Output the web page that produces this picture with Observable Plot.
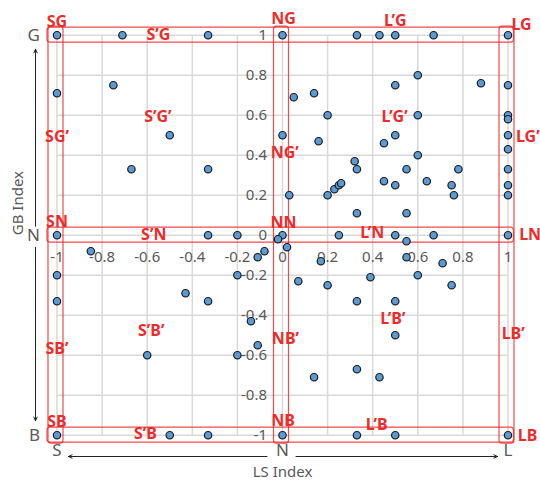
<!DOCTYPE html>
<html><head><meta charset="utf-8">
<script src="https://cdn.jsdelivr.net/npm/d3@7"></script>
<script src="https://cdn.jsdelivr.net/npm/@observablehq/plot@0.6"></script>
<style>body{margin:0;background:#fff}</style>
</head><body><div id="chart"></div>
<script>
// LS index (x) and GB index (y) of each observation
const lsValues = [
  -1, -0.71, -0.33, 0, 0.33, 0.43, 0.5, 0.67, 1,
  -1, -0.75, -0.5, -0.67, -0.33,
  0.05, 0.14, 0.2, 0, 0.16, 0.03, 0.2, 0.23, 0.25, 0.26, 0.32, 0.33, 0.33, 0.55,
  0.5, 0.6, 0.88, 0.6, 0.5, 0.45, 0.6, 0.55, 0.78, 0.45, 0.5, 0.64, 0.75, 0.76,
  1, 1, 1, 1, 1, 1, 1, 1,
  -1, -0.33, -0.2, 0, 0.25, 0.5, 0.67, 1,
  -0.02, 0.02, 0.55,
  -0.85, -1, -1, -0.43, -0.6, -0.33, -0.2, -0.14, -0.11, -0.2, -0.11, -0.08,
  0.07, 0.17, 0.2, 0.14, 0.55, 0.71, 0.39, 0.6, 0.75, 0.33, 0.5, 0.5, 0.33, 0.43,
  -1, -0.5, -0.33, 0, 0.33, 0.5, 1
];
const gbValues = [
  1, 1, 1, 1, 1, 1, 1, 1, 1,
  0.71, 0.75, 0.5, 0.33, 0.33,
  0.69, 0.71, 0.6, 0.5, 0.47, 0.2, 0.2, 0.23, 0.25, 0.26, 0.37, 0.33, 0.11, 0.11,
  0.75, 0.8, 0.76, 0.6, 0.5, 0.46, 0.4, 0.33, 0.33, 0.27, 0.25, 0.27, 0.25, 0.2,
  0.75, 0.6, 0.58, 0.5, 0.43, 0.33, 0.25, 0.2,
  0, 0, 0, 0, 0, 0, 0, 0,
  -0.02, -0.06, -0.03,
  -0.08, -0.2, -0.33, -0.29, -0.6, -0.33, -0.2, -0.43, -0.55, -0.6, -0.11, -0.08,
  -0.23, -0.13, -0.25, -0.71, -0.11, -0.14, -0.21, -0.2, -0.25, -0.33, -0.33, -0.5, -0.67, -0.71,
  -1, -1, -1, -1, -1, -1, -1
];

const xTicks = [-1, -0.8, -0.6, -0.4, -0.2, 0, 0.2, 0.4, 0.6, 0.8, 1];
const yTicks = [-1, -0.8, -0.6, -0.4, -0.2, 0, 0.2, 0.4, 0.6, 0.8, 1];
const xTickLabels = ["-1", "-0.8", "-0.6", "-0.4", "-0.2", "0", "0.2", "0.4", "0.6", "0.8", "1"];
const yTickLabels = ["-1", "-0.8", "-0.6", "-0.4", "-0.2", "0", "0.2", "0.4", "0.6", "0.8", "1"];

const lsPoles = [-1, 0, 1];
const lsPoleNames = ["S", "N", "L"];
const gbPoles = [-1, 0, 1];
const gbPoleNames = ["B", "N", "G"];
const xTitle = "LS Index";
const yTitle = "GB Index";

// highlighted bands (rows at GB poles, columns at LS poles)
const bandRows = [1, 0, -1];
const bandCols = [-1, 0, 1];

// zone labels and their anchor positions (in index units)
const zoneNames = ["SG", "S’G", "NG", "L’G", "LG",
                   "SG’", "S’G’", "NG’", "L’G’", "LG’",
                   "SN", "S’N", "NN", "L’N", "LN",
                   "SB’", "S’B’", "NB’", "L’B’", "LB’",
                   "SB", "S’B", "NB", "L’B", "LB"];
const zoneX = [-1.0, -0.55, 0.005, 0.5, 1.06,
               -1.0, -0.553, 0.01, 0.497, 1.088,
               -1.0, -0.571, 0.005, 0.398, 1.098,
               -1.0, -0.582, 0.013, 0.489, 1.023,
               -1.0, -0.608, 0.003, 0.418, 1.087];
const zoneY = [1.067, 1.0, 1.082, 1.07, 1.052,
               0.49, 0.591, 0.4135, 0.594, 0.492,
               0.069, 0.0035, 0.0635, 0.0135, 0.0,
               -0.568, -0.4765, -0.52, -0.42, -0.493,
               -0.9325, -0.993, -0.9305, -0.9505, -1.0015];

const points = lsValues.map((x, i) => ({x, y: gbValues[i]}));
const zones = zoneNames.map((t, i) => ({t, x: zoneX[i], y: zoneY[i]}));
const xTickData = xTicks.map((v, i) => ({v, t: xTickLabels[i]}));
const yTickData = yTicks.map((v, i) => ({v, t: yTickLabels[i]}));

const gray = "#595959";
const red = "#ee2b2b";

const chart = Plot.plot({
  width: 540,
  height: 485,
  marginLeft: 56.5,
  marginRight: 32.5,
  marginTop: 34.7,
  marginBottom: 50.3,
  x: {domain: [-1, 1], axis: null},
  y: {domain: [-1, 1], axis: null},
  style: {fontFamily: "'Noto Sans', sans-serif", background: "#fff", overflow: "visible"},
  marks: [
    Plot.ruleX(xTicks, {x: d => d, stroke: "#d9d9d9", strokeWidth: 1.5}),
    Plot.ruleY(yTicks, {y: d => d, stroke: "#d9d9d9", strokeWidth: 1.5}),
    // row bands
    Plot.rect(bandRows, {x1: -1, x2: 1, y1: d => d, y2: d => d,
      insetLeft: -9.5, insetRight: -6, insetTop: -7.5, insetBottom: -7.5,
      rx: 3, fill: "none", stroke: red, strokeWidth: 1.2, strokeOpacity: 0.85}),
    // column bands
    Plot.rect(bandCols, {x1: d => d, x2: d => d, y1: -1, y2: 1,
      insetLeft: -8.5, insetRight: -6.5, insetTop: -8.5, insetBottom: -8.5,
      rx: 3, fill: "none", stroke: red, strokeWidth: 1.2, strokeOpacity: 0.85}),
    // tick labels at the crossing axes
    Plot.text(yTickData, {x: 0, y: "v", text: "t", dx: -15.5, textAnchor: "end", fill: gray, fontSize: 15}),
    Plot.text(xTickData, {x: "v", y: 0, text: "t", dy: 21.5, fill: gray, fontSize: 15}),
    // pole labels
    Plot.text(gbPoles, {y: d => d, text: (d, i) => gbPoleNames[i], frameAnchor: "left", dx: -17, textAnchor: "end", fill: gray, fontSize: 17}),
    Plot.text(lsPoles, {x: d => d, text: (d, i) => lsPoleNames[i], frameAnchor: "bottom", dy: 20.5, fill: gray, fontSize: 17}),
    // axis titles
    Plot.text([yTitle], {text: d => d, frameAnchor: "left", dx: -38.5, rotate: -90, fill: gray, fontSize: 15}),
    Plot.text([xTitle], {text: d => d, frameAnchor: "bottom", dy: 42, fill: gray, fontSize: 15}),
    // direction arrows
    Plot.arrow([gbPoles[2]], {x: lsPoles[0], y1: gbPoles[1], y2: d => d, dx: -21.5, insetStart: 9, insetEnd: 14,
      stroke: "#222", strokeWidth: 1, headLength: 6, headAngle: 50}),
    Plot.arrow([gbPoles[0]], {x: lsPoles[0], y1: gbPoles[1], y2: d => d, dx: -21.5, insetStart: 12, insetEnd: 14.5,
      stroke: "#222", strokeWidth: 1, headLength: 6, headAngle: 50}),
    Plot.arrow([lsPoles[0]], {y: gbPoles[0], x1: lsPoles[1], x2: d => d, dy: 21.3, insetStart: 15.5, insetEnd: 11.5,
      stroke: "#222", strokeWidth: 1, headLength: 6, headAngle: 50}),
    Plot.arrow([lsPoles[2]], {y: gbPoles[0], x1: lsPoles[1], x2: d => d, dy: 21.3, insetStart: 13.5, insetEnd: 10.5,
      stroke: "#222", strokeWidth: 1, headLength: 6, headAngle: 50}),
    // observations
    Plot.dot(points, {x: "x", y: "y", r: 3.7, fill: "#5b9bd5", stroke: "#1b1b1b", strokeWidth: 1.2}),
    // zone labels
    Plot.text(zones, {x: "x", y: "y", text: "t", fill: red, fontSize: 16, fontWeight: "bold"})
  ]
});
document.getElementById("chart").appendChild(chart);
</script>
</body></html>
